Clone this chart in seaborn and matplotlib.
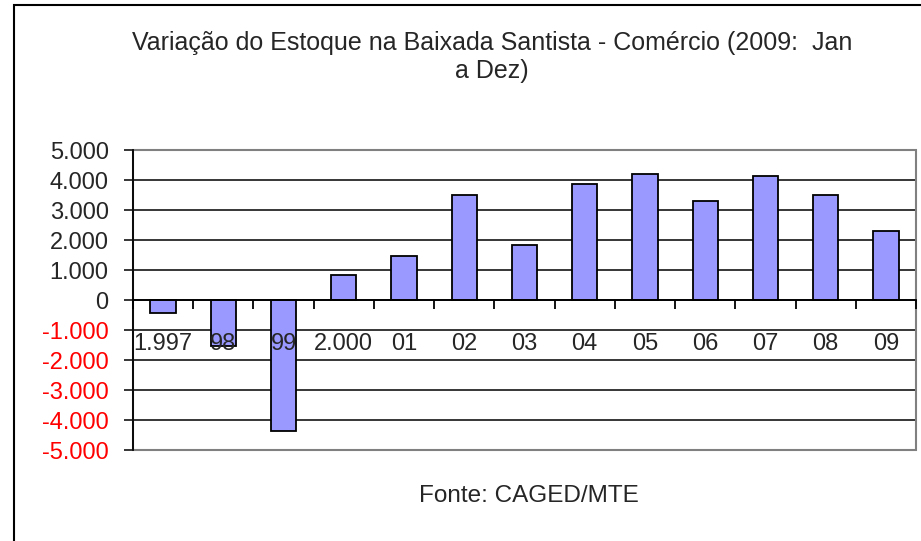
import seaborn as sns
import matplotlib.pyplot as plt
import matplotlib.ticker as mticker
from matplotlib.patches import Rectangle
import pandas as pd

# Data
anos = ['1.997', '98', '99', '2.000', '01', '02', '03', '04', '05', '06', '07', '08', '09']
saldo = [-430, -1540, -4380, 830, 1470, 3490, 1840, 3880, 4200, 3310, 4130, 3490, 2300]

df = pd.DataFrame({'Ano': anos, 'Saldo': saldo})

sns.set_style("white")
plt.rcParams['font.family'] = ['Liberation Sans', 'DejaVu Sans']

fig = plt.figure(figsize=(9.21, 5.41), dpi=100)
ax = fig.add_axes([0.1444, 0.1682, 0.9946 - 0.1444, 0.7227 - 0.1682])

sns.barplot(data=df, x='Ano', y='Saldo', color='#9999FF', edgecolor='black',
            linewidth=1.3, width=0.42, saturation=1, ax=ax, zorder=3)

ax.set_xlim(-0.5, len(anos) - 0.5)
ax.set_ylim(-5000, 5000)
ax.set_xlabel('')
ax.set_ylabel('')

# y axis (grid behind the bars)
ax.yaxis.set_major_locator(mticker.MultipleLocator(1000))
ax.yaxis.set_major_formatter(mticker.FuncFormatter(lambda v, p: f"{int(round(v)):,}".replace(',', '.')))
ax.yaxis.grid(True, color='black', linewidth=1.1)
ax.yaxis.set_zorder(0.5)
ax.tick_params(axis='y', left=True, direction='out', length=6.5, width=1.1,
               color='black', pad=11, labelsize=17)
fig.canvas.draw()
for lbl in ax.get_yticklabels():
    if lbl.get_position()[1] < 0:
        lbl.set_color('red')

# x axis on the zero line, labels drawn over the bars
for side in ['top', 'right']:
    ax.spines[side].set_visible(False)
ax.spines['left'].set_color('black')
ax.spines['left'].set_linewidth(1.3)
ax.spines['bottom'].set_position(('data', 0))
ax.spines['bottom'].set_color('black')
ax.spines['bottom'].set_linewidth(1.3)
ax.spines['bottom'].set_zorder(5)
ax.set_xticks(range(len(anos)))
ax.set_xticklabels(anos)
ax.set_xticks([i - 0.5 for i in range(len(anos) + 1)], minor=True)
ax.tick_params(axis='x', which='major', length=0, pad=24, labelsize=17)
ax.tick_params(axis='x', which='minor', bottom=True, direction='out', length=6.5,
               width=1.3, color='black')
ax.xaxis.set_zorder(6)

# plot area border (gray)
ax.add_patch(Rectangle((0, 0), 1, 1, transform=ax.transAxes, fill=False,
                       edgecolor='#808080', linewidth=1.5, zorder=4, clip_on=False))
ax.spines['left'].set_zorder(5)

# outer chart border
fig.patches.append(Rectangle((14 / 921, -0.1), 1.1, 1 - 5 / 541 + 0.1,
                             transform=fig.transFigure, fill=False,
                             edgecolor='black', linewidth=1.5))

fig.text(492 / 921, 1 - 57 / 541,
         'Variação do Estoque na Baixada Santista - Comércio (2009:  Jan\na Dez)',
         ha='center', va='center', fontsize=18, linespacing=1.2)
fig.text(529 / 921, 1 - 496 / 541, 'Fonte: CAGED/MTE', ha='center', va='center', fontsize=17.5)

fig.savefig('out.png', dpi=100)
